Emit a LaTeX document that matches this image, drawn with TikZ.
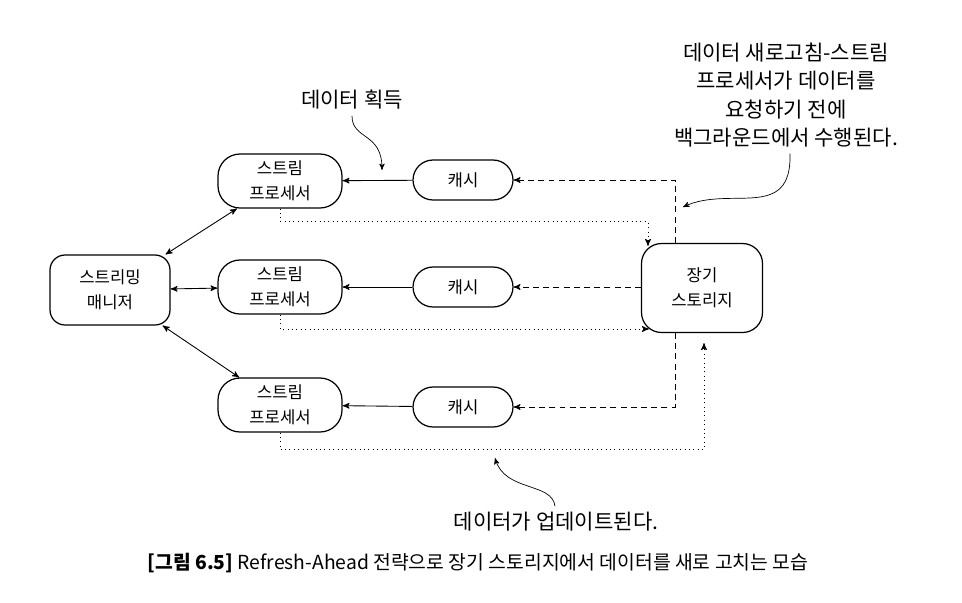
\documentclass[tikz,border=0pt]{standalone}
\usepackage{fontspec}
\setmainfont{Noto Sans CJK KR}
\usetikzlibrary{arrows,positioning}

\begin{document}
\begin{tikzpicture}[x=0.02cm,y=-0.02cm,>=stealth',line width=0.5pt,
    box/.style={draw,line width=0.7pt,align=center,font=\fontsize{9.5}{14.5}\selectfont},
    proc/.style={box,rounded corners=0.44cm,minimum width=2.48cm,minimum height=1.08cm},
    cache/.style={box,rounded corners=0.4cm,minimum width=2cm,minimum height=0.8cm},
    note/.style={align=center,font=\fontsize{12}{16.2}\selectfont}]
    \useasboundingbox (0,0) rectangle (962,602);

    \node[box,rounded corners=0.3cm,minimum width=2.4cm,minimum height=1.4cm] (mgr) at (110,290) {스트리밍\\매니저};
    \node[proc] (p1) at (280,181) {스트림\\프로세서};
    \node[proc] (p2) at (280,287) {스트림\\프로세서};
    \node[proc] (p3) at (280,405) {스트림\\프로세서};
    \node[cache] (c1) at (463,180) {캐시};
    \node[cache] (c2) at (463,287) {캐시};
    \node[cache] (c3) at (463,407) {캐시};
    \node[box,rounded corners=0.4cm,minimum width=2.42cm,minimum height=1.78cm] (store) at (702,288) {장기\\스토리지};

    \path[<->] (mgr) edge (p1);
    \path[<->] (mgr) edge (p2);
    \path[<->] (mgr) edge (p3);
    \path[->] (c1) edge (p1);
    \path[->] (c2) edge (p2);
    \path[->] (c3) edge (p3);

    % refresh from storage
    \draw[->,dash pattern=on 3.4pt off 2.4pt] ([xshift=-0.54cm]store.north) |- (c1);
    \draw[->,dash pattern=on 3.4pt off 2.4pt] (store.west |- c2) -- (c2);
    \draw[->,dash pattern=on 3.4pt off 2.4pt] ([xshift=-0.54cm]store.south) |- (c3);

    % updates to storage
    \draw[->,dotted] (p1.south) -- ++(0,13) -| ([shift={(-54,3)}]store.north);
    \draw[->,dotted] (p2.south) |- ([shift={(8,41)}]store.west);
    \draw[->,dotted] (p3.south) -- ++(0,17) -| ([shift={(2,10)}]store.south);

    % notes
    \node[note] (get) at (352,100) {데이터 획득};
    \coordinate (gettip) at (382,170);
    \draw[->,thin] (get.south) .. controls (352,140) and (382,132) .. (gettip);

    \node[note] (bg) at (786,95) {데이터 새로고침-스트림\\프로세서가 데이터를\\요청하기 전에\\백그라운드에서 수행된다.};
    \coordinate (bgtip) at (683,207);
    \draw[->,thin] (bg.south -| 790,0) .. controls (792,222) and (730,185) .. (bgtip);

    \node[note] (upd) at (556,522) {데이터가 업데이트된다.};
    \coordinate (updtip) at (495,458);
    \draw[->,thin] (upd.north -| 555,0) .. controls (552,482) and (505,492) .. (updtip);

    \node[font=\fontsize{11}{13}\selectfont] (cap) at (478,563) {\textbf{[그림 6.5]} Refresh-Ahead 전략으로 장기 스토리지에서 데이터를 새로 고치는 모습};
\end{tikzpicture}
\end{document}
